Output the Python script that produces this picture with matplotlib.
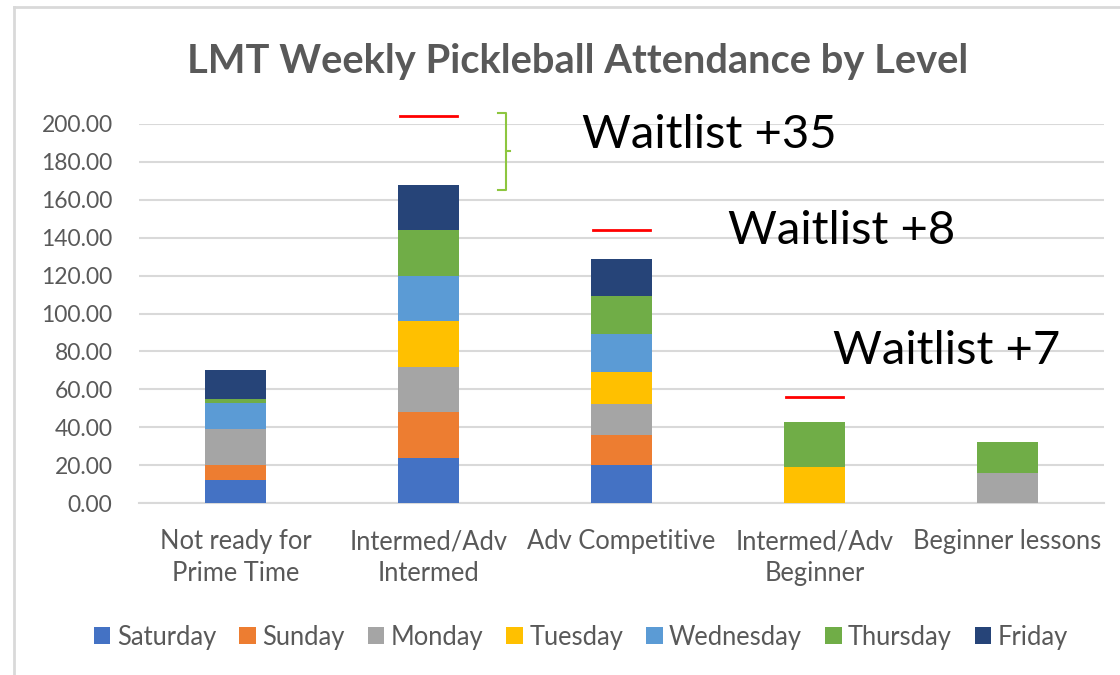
import matplotlib
matplotlib.use("Agg")
import matplotlib.pyplot as plt
import numpy as np

categories = ["Not ready for\nPrime Time", "Intermed/Adv\nIntermed", "Adv Competitive",
              "Intermed/Adv\nBeginner", "Beginner lessons"]
days = ["Saturday", "Sunday", "Monday", "Tuesday", "Wednesday", "Thursday", "Friday"]
saturday = [12, 24, 20, 0, 0]
sunday = [8, 24, 16, 0, 0]
monday = [19, 24, 16, 0, 16]
tuesday = [0, 24, 17, 19, 0]
wednesday = [14, 24, 20, 0, 0]
thursday = [2, 24, 20, 24, 16]
friday = [15, 24, 20, 0, 0]
series = [saturday, sunday, monday, tuesday, wednesday, thursday, friday]
colors = ["#4472C4", "#ED7D31", "#A5A5A5", "#FFC000", "#5B9BD5", "#70AD47", "#264478"]

waitlist_levels = [None, 204, 144, 56, None]
waitlist_texts = ["Waitlist +35", "Waitlist +8", "Waitlist +7"]
waitlist_text_pos = [(1.795, 194), (2.55, 143.5), (3.096, 80)]

yticks = np.arange(0, 201, 20)

plt.rcParams['font.family'] = ['Lato', 'DejaVu Sans']
fig = plt.figure(figsize=(11.2, 6.75), dpi=100)
ax = fig.add_axes([139/1120, 1 - 503/675, 965/1120, (503-124)/675])

x = np.arange(len(categories))
bottom = np.zeros(len(categories))
for vals, c, d in zip(series, colors, days):
    v = np.array(vals, dtype=float)
    ax.bar(x, v, width=0.316, bottom=bottom, color=c, label=d, zorder=3)
    bottom += v

ax.set_xlim(-0.5, 4.5)
ax.set_ylim(0, 200)
ax.set_yticks(yticks)
ax.set_yticklabels([f"{t:.2f}" for t in yticks], fontsize=16.5, color="#595959")
ax.set_xticks(x)
ax.set_xticklabels(categories, fontsize=18.4, color="#595959", linespacing=1.35)
ax.tick_params(axis='y', length=0, pad=19)
ax.tick_params(axis='x', length=0, pad=19)
ax.grid(axis='y', color="#D9D9D9", linewidth=1.5, zorder=0)
for s in ["top", "right", "left"]:
    ax.spines[s].set_visible(False)
ax.spines["bottom"].set_color("#D9D9D9")
ax.spines["bottom"].set_linewidth(1.5)

# waitlist red lines
for i, lvl in enumerate(waitlist_levels):
    if lvl is not None:
        ax.plot([i - 0.15, i + 0.15], [lvl, lvl], color="#FF0000", lw=2, clip_on=False, zorder=4)

# bracket
bx0, bx1 = 1.36, 1.40
ax.plot([bx0, bx1, bx1, bx0], [206, 206, 165, 165], color="#8DC63F", lw=1.5, clip_on=False)
ax.plot([bx1, 1.42], [185.5, 185.5], color="#8DC63F", lw=1.5, clip_on=False)

for t, (tx, ty) in zip(waitlist_texts, waitlist_text_pos):
    ax.text(tx, ty, t, fontsize=34, color="black", va="center", ha="left", clip_on=False)

fig.text(0.516, 1 - 61/675, "LMT Weekly Pickleball Attendance by Level", fontsize=28.7,
         fontweight="bold", color="#595959", ha="center", va="center")

leg = fig.legend(loc="center", bbox_to_anchor=(581/1120, 1 - 637/675), ncol=7, frameon=False,
                 fontsize=18.4, handlelength=0.65, handleheight=0.65, handletextpad=0.25,
                 columnspacing=0.9, labelcolor="#595959")

# chart border (left and top visible)
fig.add_artist(plt.Line2D([14/1120, 14/1120], [0, 1 - 7/675], color="#D9D9D9", lw=2, transform=fig.transFigure))
fig.add_artist(plt.Line2D([14/1120, 1], [1 - 7/675, 1 - 7/675], color="#D9D9D9", lw=2, transform=fig.transFigure))

fig.savefig("out.png", dpi=100)
